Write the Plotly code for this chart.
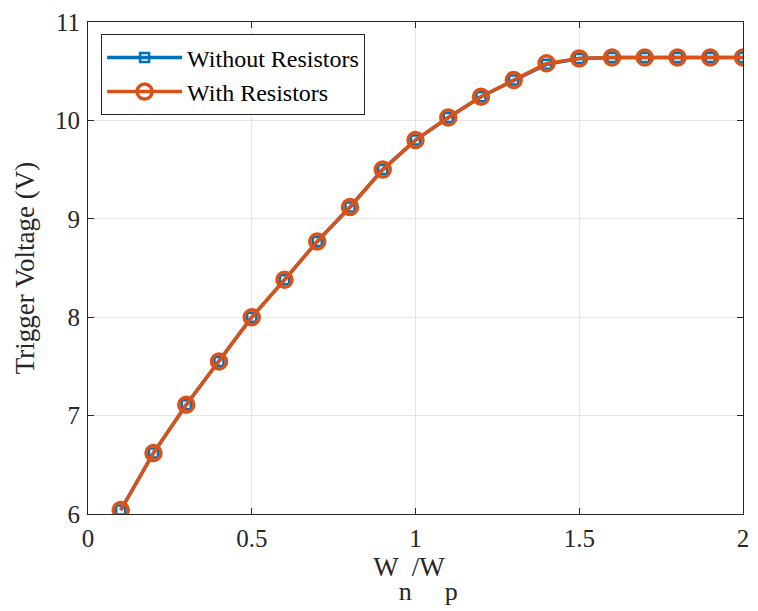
import plotly.graph_objects as go

# W_n / W_p ratio sweep
ratio = [0.1, 0.2, 0.3, 0.4, 0.5, 0.6, 0.7, 0.8, 0.9, 1.0,
         1.1, 1.2, 1.3, 1.4, 1.5, 1.6, 1.7, 1.8, 1.9, 2.0]

# Trigger voltage (V)
v_without = [6.04, 6.62, 7.11, 7.55, 8.00, 8.38, 8.77, 9.12, 9.50, 9.80,
             10.03, 10.24, 10.41, 10.57, 10.63, 10.64, 10.64, 10.64, 10.64, 10.64]
v_with = [6.04, 6.62, 7.11, 7.55, 8.00, 8.38, 8.77, 9.12, 9.50, 9.80,
          10.03, 10.24, 10.41, 10.58, 10.63, 10.64, 10.64, 10.64, 10.64, 10.64]

x_ticks = [0, 0.5, 1, 1.5, 2]
x_tick_text = ["0", "0.5", "1", "1.5", "2"]
y_ticks = [6, 7, 8, 9, 10, 11]

BLUE = "#0072BD"
ORANGE = "#D95319"
FONT = "Liberation Serif"
TXT = "#262626"

fig = go.Figure()
fig.add_trace(go.Scatter(
    x=ratio, y=v_without, mode="lines+markers", name="Without Resistors",
    line=dict(color=BLUE, width=3.5),
    marker=dict(symbol="square-open", size=9, color=BLUE, line=dict(width=2.5, color=BLUE)),
))
fig.add_trace(go.Scatter(
    x=ratio, y=v_with, mode="lines+markers", name="With Resistors",
    line=dict(color=ORANGE, width=3.5),
    marker=dict(symbol="circle-open", size=15, color=ORANGE, line=dict(width=3.5, color=ORANGE)),
))

axis_common = dict(
    showline=True, linecolor=TXT, linewidth=1, mirror="ticks",
    ticks="inside", ticklen=6, tickcolor=TXT,
    showgrid=True, gridcolor="#E6E6E6", gridwidth=1,
    zeroline=False, tickfont=dict(family=FONT, size=25, color=TXT),
)

# Large, deeply lowered subscripts (TeX-style): the outer span sets the em
# used for the baseline shift, the inner span sets the glyph size.
sub = ('<span style="font-size:112px"><sub>'
       '<span style="font-size:26px">{}</span></sub></span>')
fig.update_xaxes(
    range=[0, 2], tickvals=x_ticks, ticktext=x_tick_text, ticklabelstandoff=2,
    title=dict(text="W" + sub.format("n") + "/W" + sub.format("p"),
               font=dict(family=FONT, size=27, color=TXT), standoff=0),
    **axis_common,
)
fig.update_yaxes(
    range=[6, 11], tickvals=y_ticks, ticklabelstandoff=2,
    title=dict(text="Trigger Voltage (V)", font=dict(family=FONT, size=27, color=TXT), standoff=12),
    **axis_common,
)

fig.update_layout(
    width=758, height=611,
    margin=dict(l=88, r=9, t=16, b=97),
    plot_bgcolor="white", paper_bgcolor="white",
    showlegend=True,
    legend=dict(
        x=0.02, y=0.975, xanchor="left", yanchor="top",
        bgcolor="white", bordercolor=TXT, borderwidth=1,
        font=dict(family=FONT, size=24, color="black"),
        itemwidth=75, tracegroupgap=0,
    ),
)

fig.write_html("out.html")
